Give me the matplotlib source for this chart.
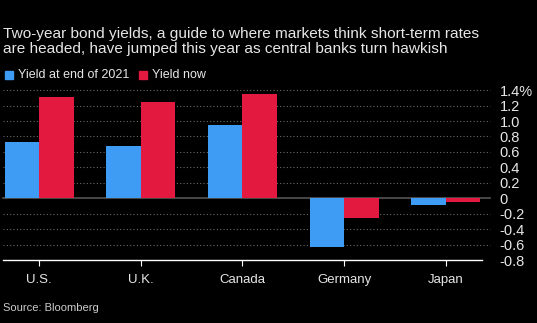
import numpy as np
import matplotlib.pyplot as plt

# Data
countries = ["U.S.", "U.K.", "Canada", "Germany", "Japan"]
yield_2021 = [0.73, 0.67, 0.95, -0.63, -0.09]
yield_now = [1.31, 1.25, 1.35, -0.26, -0.05]
yticks = [1.4, 1.2, 1.0, 0.8, 0.6, 0.4, 0.2, 0, -0.2, -0.4, -0.6, -0.8]
ytick_labels = ["1.4%", "1.2", "1.0", "0.8", "0.6", "0.4", "0.2", "0",
                "-0.2", "-0.4", "-0.6", "-0.8"]

blue = "#3f9cf4"
red = "#e4193f"
text_col = "#e6e6e6"

plt.rcParams['font.family'] = ['Liberation Sans', 'DejaVu Sans']

fig = plt.figure(figsize=(5.37, 3.23), dpi=100, facecolor="black")
ax = fig.add_axes([0.006, 0.195, 0.891, 0.526], facecolor="black")

x = np.arange(len(countries))
w = 0.34
ax.bar(x - w / 2, yield_2021, w, color=blue, zorder=3)
ax.bar(x + w / 2, yield_now, w, color=red, zorder=3)

ax.set_xlim(-0.355, 4.355)
ax.set_ylim(-0.8, 1.4)

# gridlines (run a little past the right end of the axis line)
for t in yticks:
    if t == 0:
        ax.axhline(0, xmax=1.017, color="#555555", lw=1.2, zorder=2, clip_on=False)
    elif t != -0.8:
        ax.axhline(t, xmax=1.017, color="#6a6a6a", lw=0.8, ls=(0, (1, 2)),
                   zorder=1, clip_on=False)

for s in ["top", "left", "right"]:
    ax.spines[s].set_visible(False)
ax.spines["bottom"].set_color("white")
ax.spines["bottom"].set_linewidth(1.0)

ax.set_xticks(x)
ax.set_xticklabels(countries, fontsize=9.5)
ax.tick_params(axis="x", colors="white", labelcolor=text_col, length=4, width=0.8, pad=6)

ax.yaxis.tick_right()
ax.set_yticks(yticks)
ax.set_yticklabels(ytick_labels, fontsize=10.5, color=text_col)
ax.tick_params(axis="y", which="major", right=True, length=0, pad=13)

# title
fig.text(0.006, 0.895, "Two-year bond yields, a guide to where markets think short-term rates",
         color=text_col, fontsize=11.1, va="center", ha="left")
fig.text(0.006, 0.848, "are headed, have jumped this year as central banks turn hawkish",
         color=text_col, fontsize=11.1, va="center", ha="left")

# legend
fig.patches.append(plt.Rectangle((0.009, 0.755), 0.015, 0.025, color=blue,
                                 transform=fig.transFigure, figure=fig))
fig.text(0.033, 0.768, "Yield at end of 2021", color=text_col, fontsize=9, va="center")
fig.patches.append(plt.Rectangle((0.259, 0.755), 0.015, 0.025, color=red,
                                 transform=fig.transFigure, figure=fig))
fig.text(0.283, 0.768, "Yield now", color=text_col, fontsize=9, va="center")

# source
fig.text(0.006, 0.046, "Source: Bloomberg", color="#cccccc", fontsize=8, va="center")

fig.savefig("out.png", dpi=100, facecolor="black")
